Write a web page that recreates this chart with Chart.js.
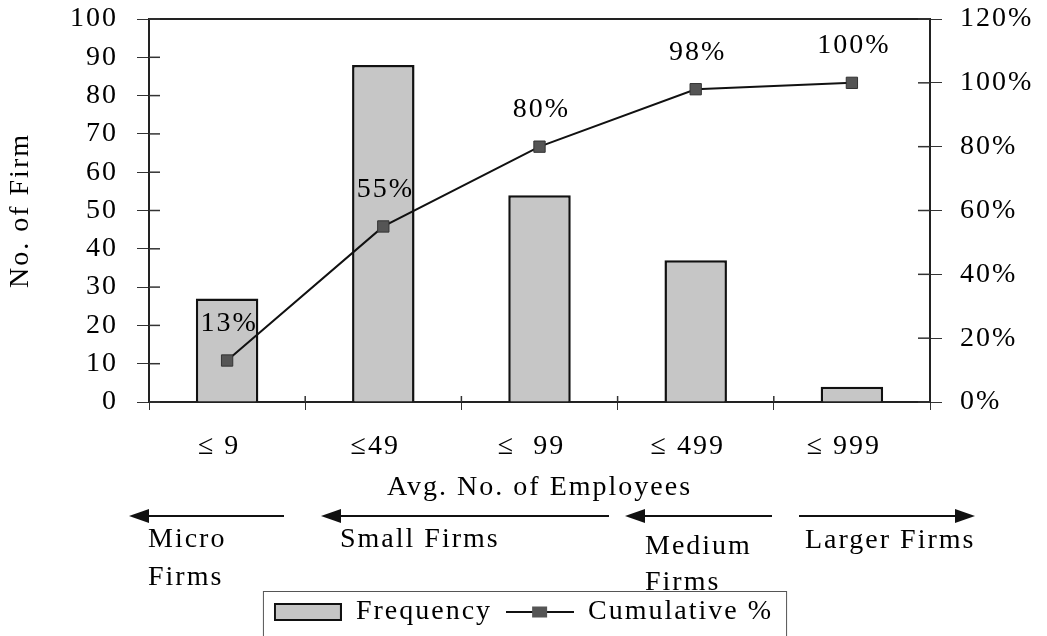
<!DOCTYPE html>
<html>
<head>
<meta charset="utf-8">
<script src="https://cdn.jsdelivr.net/npm/chart.js@4.4.1/dist/chart.umd.min.js"></script>
<style>
  html, body { margin: 0; padding: 0; background: #fff; }
  #wrap { width: 1047px; height: 636px; }
</style>
</head>
<body>
<div id="wrap"><canvas id="chart" width="1047" height="636"></canvas></div>
<script>
// chart data
const categories = ['≤ 9', '≤49', '≤  99', '≤ 499', '≤ 999'];
const frequency = [27, 88, 54, 37, 4];
const cumulative = [13, 55, 80, 98, 100];
const groupNames = [['Micro', 'Firms'], ['Small Firms'], ['Medium', 'Firms'], ['Larger Firms']];

// where the firm-size arrows and their captions sit under the axis
const groupArrows = [
    { from: 284, to: 129, textX: 148, textY: [540, 578] },
    { from: 609, to: 321, textX: 340, textY: [540] },
    { from: 772, to: 625, textX: 645, textY: [547, 583] },
    { from: 799, to: 975, textX: 805, textY: [541] }
];
const arrowY = 516;

const serif = '"Liberation Serif", "Times New Roman", serif';
const fontSize = 28;
Chart.defaults.font.family = serif;
Chart.defaults.font.size = fontSize;
Chart.defaults.color = '#000';

function makeSwatch(kind) {
    const c = document.createElement('canvas');
    c.width = 68;
    c.height = 18;
    const g = c.getContext('2d');
    if (kind === 'bar') {
        g.fillStyle = '#c6c6c6';
        g.fillRect(1, 1, 66, 16);
        g.strokeStyle = '#111';
        g.lineWidth = 2;
        g.strokeRect(1, 1, 66, 16);
    } else {
        g.strokeStyle = '#111';
        g.lineWidth = 2;
        g.beginPath();
        g.moveTo(0, 9);
        g.lineTo(68, 9);
        g.stroke();
        g.fillStyle = '#555';
        g.fillRect(26, 3.5, 15, 11);
    }
    return c;
}
const swatches = [makeSwatch('bar'), makeSwatch('line')];

const spacing = {
    id: 'spacing',
    beforeUpdate(chart) { chart.ctx.letterSpacing = '2px'; },
    beforeDraw(chart) { chart.ctx.letterSpacing = '2px'; }
};

const frame = {
    id: 'frame',
    afterDraw(chart) {
        const { ctx, chartArea: a, scales } = chart;
        ctx.save();
        ctx.strokeStyle = '#222';
        ctx.lineWidth = 2;
        ctx.beginPath();
        ctx.moveTo(a.left, a.top);
        ctx.lineTo(a.right, a.top);
        ctx.stroke();
        // inner half of the axis ticks, so they cross the axis lines
        ctx.lineWidth = 1.5;
        ctx.strokeStyle = '#333';
        scales.y.ticks.forEach(t => {
            const py = scales.y.getPixelForValue(t.value);
            ctx.beginPath();
            ctx.moveTo(a.left, py);
            ctx.lineTo(a.left + 11, py);
            ctx.stroke();
        });
        scales.y1.ticks.forEach(t => {
            const py = scales.y1.getPixelForValue(t.value);
            ctx.beginPath();
            ctx.moveTo(a.right - 12, py);
            ctx.lineTo(a.right, py);
            ctx.stroke();
        });
        const step = a.width / categories.length;
        for (let i = 1; i < categories.length; i++) {
            const px = a.left + step * i;
            ctx.beginPath();
            ctx.moveTo(px, a.bottom - 6);
            ctx.lineTo(px, a.bottom);
            ctx.stroke();
        }
        ctx.restore();
    }
};

const pointLabels = {
    id: 'pointLabels',
    afterDatasetsDraw(chart) {
        const ctx = chart.ctx;
        const meta = chart.getDatasetMeta(1);
        ctx.save();
        ctx.font = fontSize + 'px ' + serif;
        ctx.fillStyle = '#000';
        ctx.textAlign = 'center';
        ctx.textBaseline = 'middle';
        meta.data.forEach((pt, i) => {
            ctx.fillText(cumulative[i] + '%', pt.x + 2, pt.y - 37);
        });
        ctx.restore();
    }
};

const annotations = {
    id: 'annotations',
    afterDraw(chart) {
        const ctx = chart.ctx;
        ctx.save();
        ctx.strokeStyle = '#111';
        ctx.fillStyle = '#111';
        ctx.lineWidth = 2;
        groupArrows.forEach(a => {
            const dir = a.to > a.from ? 1 : -1;
            ctx.beginPath();
            ctx.moveTo(a.from, arrowY);
            ctx.lineTo(a.to - dir * 18, arrowY);
            ctx.stroke();
            ctx.beginPath();
            ctx.moveTo(a.to, arrowY);
            ctx.lineTo(a.to - dir * 20, arrowY - 7);
            ctx.lineTo(a.to - dir * 20, arrowY + 7);
            ctx.closePath();
            ctx.fill();
        });
        ctx.font = fontSize + 'px ' + serif;
        ctx.fillStyle = '#000';
        ctx.textAlign = 'left';
        ctx.textBaseline = 'middle';
        groupArrows.forEach((a, i) => {
            groupNames[i].forEach((line, j) => ctx.fillText(line, a.textX, a.textY[j]));
        });

        // box round the legend
        const lg = chart.legend;
        const hb = lg.legendHitBoxes;
        if (hb && hb.length) {
            const last = hb[hb.length - 1];
            const left = hb[0].left - 11;
            const right = last.left + last.width + 13;
            ctx.strokeStyle = '#555';
            ctx.lineWidth = 1;
            ctx.strokeRect(left + 0.5, lg.top + 7.5, right - left, 60);
        }
        ctx.restore();
    }
};

// the tick padding should only push the labels sideways, not shrink the plot
function noVerticalPadding(s, width) {
    s.width = width;
    s.paddingTop = 0;
    s.paddingBottom = 0;
}

new Chart(document.getElementById('chart'), {
    type: 'bar',
    data: {
        labels: categories,
        datasets: [
            {
                type: 'bar',
                label: 'Frequency',
                data: frequency,
                backgroundColor: '#c6c6c6',
                borderColor: '#111',
                borderWidth: 2.5,
                barPercentage: 0.4,
                categoryPercentage: 1,
                yAxisID: 'y',
                order: 2
            },
            {
                type: 'line',
                label: 'Cumulative %',
                data: cumulative,
                borderColor: '#111',
                borderWidth: 2,
                pointStyle: 'rect',
                pointRadius: 8,
                pointBackgroundColor: '#555',
                pointBorderColor: '#333',
                pointBorderWidth: 1,
                tension: 0,
                yAxisID: 'y1',
                order: 1
            }
        ]
    },
    options: {
        responsive: false,
        animation: false,
        layout: { padding: { top: 19, left: 0, right: 0, bottom: 0 } },
        scales: {
            x: {
                grid: { display: true, drawOnChartArea: false, drawTicks: true, tickLength: 8, color: '#333', offset: true },
                border: { display: true, color: '#222', width: 2 },
                ticks: { padding: 20, labelOffset: -8, color: '#000' },
                title: { display: true, text: 'Avg. No. of Employees', color: '#000', padding: { top: 0, bottom: 80 } },
                afterFit(s) { s.height = 182; }
            },
            y: {
                position: 'left',
                min: 0,
                max: 100,
                ticks: { stepSize: 10, padding: 19, color: '#000' },
                grid: { drawOnChartArea: false, tickLength: 12, color: '#333' },
                border: { display: true, color: '#222', width: 2 },
                title: { display: true, text: 'No. of Firm', color: '#000', padding: { top: 4, bottom: 0 } },
                afterFit(s) { noVerticalPadding(s, 149); }
            },
            y1: {
                position: 'right',
                min: 0,
                max: 120,
                ticks: { stepSize: 20, padding: 18, color: '#000', callback: v => v + '%' },
                grid: { drawOnChartArea: false, tickLength: 12, color: '#333' },
                border: { display: true, color: '#222', width: 2 },
                afterFit(s) { noVerticalPadding(s, 117); }
            }
        },
        plugins: {
            legend: {
                position: 'bottom',
                labels: {
                    usePointStyle: true,
                    pointStyleWidth: 68,
                    boxHeight: 18,
                    padding: 14,
                    color: '#000',
                    sort: (a, b) => a.datasetIndex - b.datasetIndex,
                    generateLabels(chart) {
                        const items = Chart.defaults.plugins.legend.labels.generateLabels(chart);
                        items.forEach(it => { it.pointStyle = swatches[it.datasetIndex]; });
                        return items;
                    }
                }
            },
            tooltip: { enabled: false }
        }
    },
    plugins: [spacing, frame, pointLabels, annotations]
});
</script>
</body>
</html>
